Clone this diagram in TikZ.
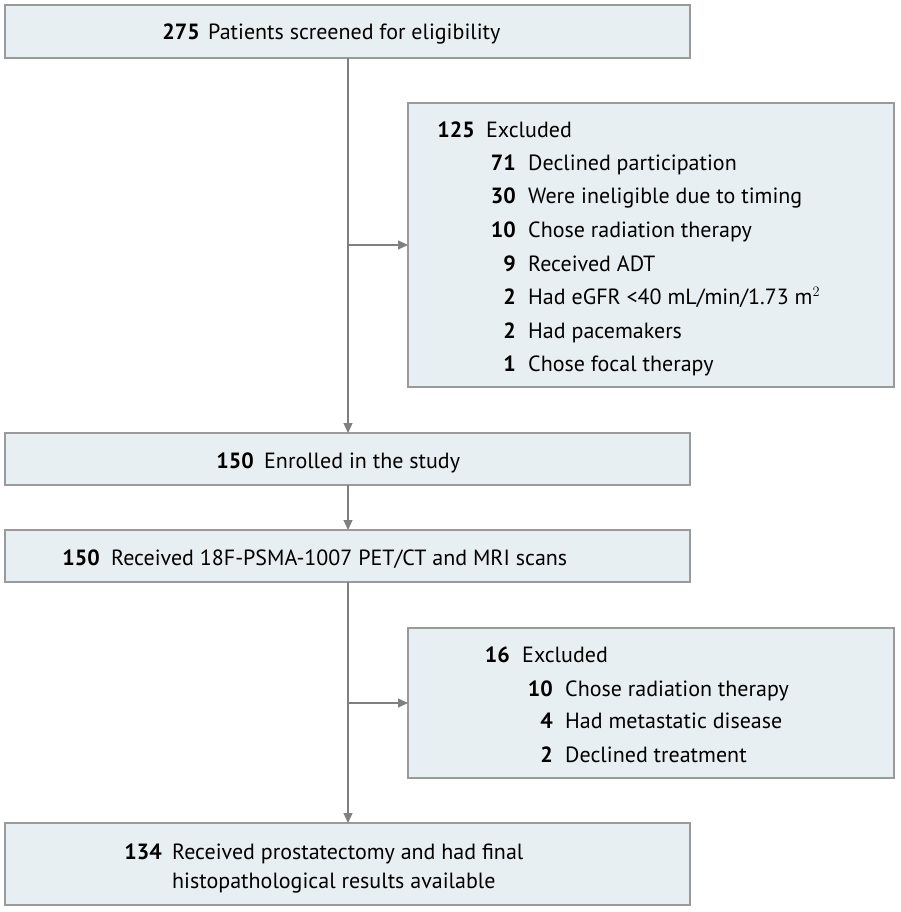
\documentclass[tikz,border=0pt]{standalone}
\usepackage{fontspec}
\setmainfont{PT Sans}
\usetikzlibrary{arrows.meta}
\definecolor{bfill}{HTML}{E8EFF3}
\definecolor{bline}{HTML}{9A9A9A}
\definecolor{aline}{HTML}{808080}
\begin{document}
\begin{tikzpicture}[x=1pt,y=-1pt,
  box/.style={draw=bline,line width=1.2pt,fill=bfill},
  num/.style={anchor=base east,inner sep=0pt,font=\fontsize{22}{26}\selectfont\bfseries},
  txt/.style={anchor=base west,inner sep=0pt,font=\fontsize{22}{26}\selectfont},
  conn/.style={aline,line width=1.2pt},
  arr/.style={conn,-{Triangle[length=10pt,width=9pt]}}]
\useasboundingbox[fill=white] (0,0) rectangle (900,912);
\draw[box] (5,5) rectangle (690,58);
\draw[box] (408,103) rectangle (894,387);
\draw[box] (5,433) rectangle (690,485);
\draw[box] (5,530) rectangle (690,582);
\draw[box] (408,628) rectangle (894,778);
\draw[box] (5,823) rectangle (690,905);
\coordinate (t1) at (348,58); \coordinate (b2) at (348,433);
\coordinate (t2) at (348,485); \coordinate (b3) at (348,530);
\coordinate (t3) at (348,582); \coordinate (b4) at (348,823);
\coordinate (j1) at (348,245); \coordinate (e1) at (408,245);
\coordinate (j2) at (348,703); \coordinate (e2) at (408,703);
\draw[arr] (t1) -- (b2);
\draw[arr] (t2) -- (b3);
\draw[arr] (t3) -- (b4);
\draw[arr] (j1) -- (e1);
\draw[arr] (j2) -- (e2);
% box 1
\node[num] (n1) at (200,40) {275}; \node[txt] (x1) at (208,40) {Patients screened for eligibility};
% excl 1
\node[num] (n2) at (475,138) {125}; \node[txt] (x2) at (486,138) {Excluded};
\foreach \n/\t/\y in {71/Declined participation/171, 30/Were ineligible due to timing/204, 10/Chose radiation therapy/237, 9/Received ADT/271, 2/{Had eGFR <40 mL/min/1.73 m$^2$}/304, 2/Had pacemakers/338, 1/Chose focal therapy/371}
 {\node[num] at (516,\y) {\n}; \node[txt] at (528,\y) {\t};}
% box 2,3
\node[num] (n3) at (254,468) {150}; \node[txt] (x3) at (264,468) {Enrolled in the study};
\node[num] (n4) at (100,565) {150}; \node[txt] (x4) at (111,565) {Received 18F-PSMA-1007 PET/CT and MRI scans};
% excl 2
\node[num] (n5) at (510,662) {16}; \node[txt] (x5) at (522,662) {Excluded};
\foreach \n/\t/\y in {10/Chose radiation therapy/696, 4/Had metastatic disease/728, 2/Declined treatment/762}
 {\node[num] at (553,\y) {\n}; \node[txt] at (565,\y) {\t};}
% box 4
\node[num] (n6) at (162,859) {134}; \node[txt] (x6) at (172,859) {Received prostatectomy and had final};
\node[txt] (x7) at (172,888) {histopathological results available};
\end{tikzpicture}
\end{document}
